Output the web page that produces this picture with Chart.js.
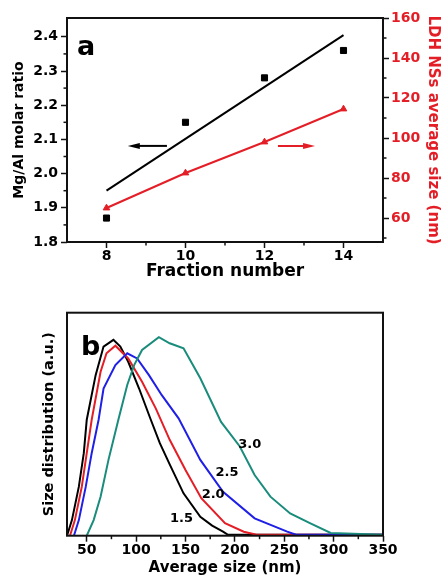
<!DOCTYPE html>
<html>
<head>
<meta charset="utf-8">
<script src="https://cdn.jsdelivr.net/npm/chart.js@4.4.1/dist/chart.umd.min.js"></script>
<style>
  html, body { margin: 0; padding: 0; background: #fff; overflow: hidden; }
  #wrapA { position: absolute; left: 0; top: 0; width: 442px; height: 290px; }
  #wrapB { position: absolute; left: 0; top: 290px; width: 442px; height: 300px; }
</style>
</head>
<body>
<div id="wrapA"><canvas id="chartA" width="442" height="290"></canvas></div>
<div id="wrapB"><canvas id="chartB" width="442" height="300"></canvas></div>
<script>
// ---- panel a : Mg/Al ratio and LDH size vs fraction ----
const fractions = [8, 10, 12, 14];
const molarRatio = [1.87, 2.15, 2.28, 2.36];
const ratioFitX = [8, 14];
const ratioFitY = [1.95, 2.405];
const avgSize = [65, 82.5, 98, 114.5];

const fractionTicks = [8, 10, 12, 14];
const fractionMinor = [9, 11, 13];
const ratioTicks = [1.8, 1.9, 2.0, 2.1, 2.2, 2.3, 2.4];
const ratioMinor = [1.85, 1.95, 2.05, 2.15, 2.25, 2.35];
const sizeTicks = [60, 80, 100, 120, 140, 160];
const sizeMinor = [50, 70, 90, 110, 130, 150];

// ---- panel b : size distributions (normalised height) ----
const sizes15 = [30, 35, 42, 47, 50, 59, 67, 77, 84, 92, 103, 114, 124, 134, 148, 165, 177, 188, 193, 350];
const dist15  = [0, 0.07, 0.22, 0.37, 0.52, 0.72, 0.848, 0.878, 0.848, 0.78, 0.66, 0.53, 0.415, 0.32, 0.19, 0.085, 0.045, 0.018, 0.004, 0.004];
const sizes20 = [33, 38, 45, 50, 55, 64, 70, 79, 92, 106, 120, 134, 150, 166, 190, 209, 222, 350];
const dist20  = [0, 0.07, 0.22, 0.37, 0.52, 0.735, 0.818, 0.852, 0.795, 0.69, 0.57, 0.43, 0.295, 0.168, 0.056, 0.018, 0.004, 0.004];
const sizes25 = [37, 42, 49, 55, 62, 67, 79, 91, 101, 113, 126, 143, 165, 188, 220, 253, 262, 350];
const dist25  = [0, 0.07, 0.22, 0.37, 0.52, 0.66, 0.765, 0.818, 0.795, 0.72, 0.63, 0.526, 0.34, 0.197, 0.078, 0.018, 0.004, 0.004];
const sizes30 = [50, 57, 64, 72, 82, 91, 98, 106, 123, 134, 148, 165, 186, 205, 220, 236, 256, 276, 297, 350];
const dist30  = [0, 0.07, 0.175, 0.34, 0.52, 0.676, 0.765, 0.833, 0.89, 0.863, 0.84, 0.706, 0.51, 0.4, 0.272, 0.175, 0.1, 0.056, 0.012, 0.004];

const sizeAxisTicks = [50, 100, 150, 200, 250, 300, 350];
const sizeAxisMinor = [75, 125, 175, 225, 275, 325];
const curveTags = [
  { text: '1.5', x: 146, y: 0.075 },
  { text: '2.0', x: 178, y: 0.183 },
  { text: '2.5', x: 192, y: 0.281 },
  { text: '3.0', x: 215, y: 0.407 }
];

const RED = '#e41e26';
const FONT = 'DejaVu Sans';
const pts = (xs, ys) => xs.map((x, i) => ({ x, y: ys[i] }));
const bold = size => ({ family: FONT, size, weight: 'bold' });

Chart.defaults.color = '#000';
Chart.defaults.font.family = FONT;

// frame + minor ticks + text annotations
const framePlugin = {
  id: 'frame',
  afterDraw(chart, args, opts) {
    const { ctx, chartArea: a } = chart;
    ctx.save();
    ctx.strokeStyle = '#111';
    ctx.lineWidth = 1.5;
    (opts.minor || []).forEach(m => {
      const s = chart.scales[m.axis];
      m.values.forEach(v => {
        const p = s.getPixelForValue(v);
        ctx.beginPath();
        if (s.position === 'bottom') { ctx.moveTo(p, a.bottom); ctx.lineTo(p, a.bottom + 3.5); }
        else if (s.position === 'left') { ctx.moveTo(a.left, p); ctx.lineTo(a.left - 3.5, p); }
        else { ctx.moveTo(a.right, p); ctx.lineTo(a.right + 3.5, p); }
        ctx.stroke();
      });
    });
    ctx.lineWidth = 2;
    ctx.strokeRect(a.left, a.top, a.right - a.left, a.bottom - a.top);
    if (opts.draw) opts.draw(chart, ctx, a);
    ctx.restore();
  }
};

const arrow = (ctx, x1, x2, y, color) => {
  const dir = Math.sign(x2 - x1);
  ctx.strokeStyle = color;
  ctx.fillStyle = color;
  ctx.lineWidth = 2;
  ctx.beginPath();
  ctx.moveTo(x1, y);
  ctx.lineTo(x2 - dir * 8, y);
  ctx.stroke();
  ctx.beginPath();
  ctx.moveTo(x2, y);
  ctx.lineTo(x2 - dir * 12, y - 3);
  ctx.lineTo(x2 - dir * 12, y + 3);
  ctx.closePath();
  ctx.fill();
};

const tickGrid = { drawOnChartArea: false, drawTicks: true, tickLength: 6, tickWidth: 1.5, tickColor: '#111' };

new Chart(document.getElementById('chartA'), {
  type: 'line',
  data: {
    datasets: [
      {
        data: pts(fractions, molarRatio), yAxisID: 'y', showLine: false,
        pointStyle: 'rect', pointRadius: 4.3, backgroundColor: '#000', borderColor: '#000'
      },
      {
        data: pts(ratioFitX, ratioFitY), yAxisID: 'y',
        borderColor: '#000', borderWidth: 2, pointRadius: 0
      },
      {
        data: pts(fractions, avgSize), yAxisID: 'y1',
        borderColor: RED, backgroundColor: RED, borderWidth: 2,
        pointStyle: 'triangle', pointRadius: 3.8, pointBorderWidth: 1
      }
    ]
  },
  options: {
    responsive: false,
    animation: false,
    devicePixelRatio: 1,
    layout: { padding: { top: 18, left: 0, right: 0, bottom: 0 } },
    plugins: {
      legend: { display: false },
      tooltip: { enabled: false },
      frame: {
        minor: [
          { axis: 'x', values: fractionMinor },
          { axis: 'y', values: ratioMinor },
          { axis: 'y1', values: sizeMinor }
        ],
        draw(chart, ctx, a) {
          const sx = chart.scales.x, sy = chart.scales.y, sr = chart.scales.y1;
          arrow(ctx, sx.getPixelForValue(9.53), sx.getPixelForValue(8.54), sy.getPixelForValue(2.081), '#000');
          arrow(ctx, sx.getPixelForValue(12.34), sx.getPixelForValue(13.28), sr.getPixelForValue(96), RED);
          ctx.fillStyle = '#000';
          ctx.font = 'bold 27px ' + FONT;
          ctx.textAlign = 'left';
          ctx.textBaseline = 'alphabetic';
          ctx.fillText('a', a.left + 10, a.top + 37);
        }
      }
    },
    scales: {
      x: {
        type: 'linear', position: 'bottom', min: 7, max: 15,
        afterBuildTicks: s => { s.ticks = fractionTicks.map(v => ({ value: v })); },
        afterFit: s => { s.height = 48; },
        grid: tickGrid,
        border: { display: false },
        ticks: { font: bold(14), padding: 0, maxRotation: 0 },
        title: { display: true, text: 'Fraction number', font: bold(17), padding: { top: 0, bottom: 8 } }
      },
      y: {
        type: 'linear', position: 'left', min: 1.8, max: 2.455,
        afterBuildTicks: s => { s.ticks = ratioTicks.map(v => ({ value: v })); },
        afterFit: s => { s.width = 67; },
        grid: tickGrid,
        border: { display: false },
        ticks: { font: bold(14), padding: 3, callback: v => v.toFixed(1) },
        title: { display: true, text: 'Mg/Al molar ratio', font: bold(14), padding: { top: 11, bottom: 0 } }
      },
      y1: {
        type: 'linear', position: 'right', min: 48, max: 160,
        afterBuildTicks: s => { s.ticks = sizeTicks.map(v => ({ value: v })); },
        afterFit: s => { s.width = 59; },
        grid: tickGrid,
        border: { display: false },
        ticks: { font: bold(14), padding: 2, color: RED },
        title: { display: true, text: 'LDH NSs average size (nm)', color: RED, font: bold(15), padding: { top: 0, bottom: 0 } }
      }
    }
  },
  plugins: [framePlugin]
});

const curve = (xs, ys, color) => ({
  data: pts(xs, ys), borderColor: color, borderWidth: 2, pointRadius: 0, tension: 0
});

new Chart(document.getElementById('chartB'), {
  type: 'line',
  data: {
    datasets: [
      curve(sizes30, dist30, '#1a8c7c'),
      curve(sizes25, dist25, '#1f1fe6'),
      curve(sizes20, dist20, RED),
      curve(sizes15, dist15, '#000')
    ]
  },
  options: {
    responsive: false,
    animation: false,
    devicePixelRatio: 1,
    layout: { padding: { top: 22.7, left: 0, right: 59, bottom: 0 } },
    plugins: {
      legend: { display: false },
      tooltip: { enabled: false },
      frame: {
        minor: [{ axis: 'x', values: sizeAxisMinor }],
        draw(chart, ctx, a) {
          const sx = chart.scales.x, sy = chart.scales.y;
          ctx.fillStyle = '#000';
          ctx.font = 'bold 27px ' + FONT;
          ctx.textAlign = 'left';
          ctx.textBaseline = 'alphabetic';
          ctx.fillText('b', a.left + 14, a.top + 42);
          ctx.font = 'bold 13px ' + FONT;
          ctx.textAlign = 'center';
          ctx.textBaseline = 'middle';
          curveTags.forEach(t => ctx.fillText(t.text, sx.getPixelForValue(t.x), sy.getPixelForValue(t.y)));
        }
      }
    },
    scales: {
      x: {
        type: 'linear', position: 'bottom', min: 30, max: 350,
        afterBuildTicks: s => { s.ticks = sizeAxisTicks.map(v => ({ value: v })); },
        afterFit: s => { s.height = 54.3; },
        grid: tickGrid,
        border: { display: false },
        ticks: { font: bold(14), padding: 0, maxRotation: 0 },
        title: { display: true, text: 'Average size (nm)', font: bold(15), padding: { top: 0, bottom: 13 } }
      },
      y: {
        type: 'linear', position: 'left', min: 0, max: 1,
        afterFit: s => { s.width = 67; },
        grid: { display: false },
        border: { display: false },
        ticks: { display: false },
        title: { display: true, text: 'Size distribution (a.u.)', font: bold(14.5), padding: { top: 41, bottom: 0 } }
      }
    }
  },
  plugins: [framePlugin]
});
</script>
</body>
</html>
